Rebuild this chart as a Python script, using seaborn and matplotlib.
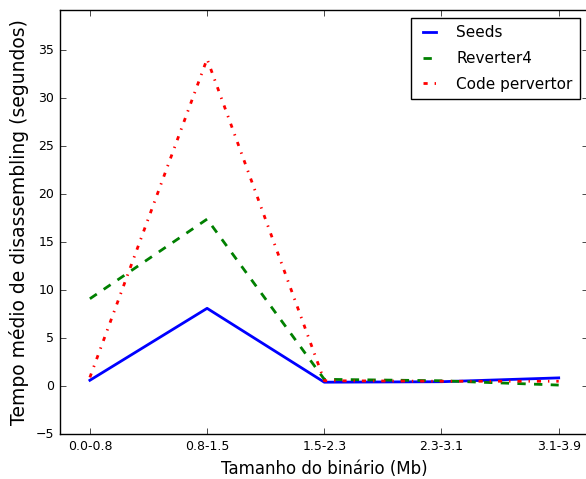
import numpy as np
import seaborn as sns
from matplotlib import pyplot as plt

# Average disassembling time per binary size bucket
categories = ['0.0-0.8', '0.8-1.5', '1.5-2.3', '2.3-3.1', '3.1-3.9']
seeds = [0.6, 8.1, 0.4, 0.45, 0.85]
reverter4 = [9.1, 17.4, 0.7, 0.55, 0.1]
code_pervertor = [0.9, 34.1, 0.55, 0.5, 0.5]


def plot_times():
    plt.style.use('classic')
    plt.rcParams['figure.facecolor'] = 'white'
    plt.rcParams['savefig.facecolor'] = 'white'
    plt.rcParams['font.family'] = ['DejaVu Sans']

    fig = plt.figure(figsize=(5.86, 4.79), dpi=100)
    ax = fig.add_axes([60 / 586, 45 / 479, 528 / 586, 424 / 479])

    x = np.arange(len(categories))
    sns.lineplot(x=x, y=seeds, ax=ax, color='b', lw=2, label='Seeds')
    sns.lineplot(x=x, y=reverter4, ax=ax, color='g', lw=2, linestyle='--', label='Reverter4')
    sns.lineplot(x=x, y=code_pervertor, ax=ax, color='r', lw=2, linestyle='-.',
                 label='Code pervertor')

    ax.set_xticks(x)
    ax.set_xticklabels(categories, fontsize=9)
    ax.set_xlim(-0.255, 4.25)
    ax.set_ylim(-5, 39.2)
    ax.set_yticks(np.arange(-5, 36, 5))
    ax.tick_params(axis='y', labelsize=9)

    ax.set_xlabel('Tamanho do binário (Mb)', fontsize=12)
    ax.set_ylabel('Tempo médio de disassembling (segundos)', fontsize=13.5)

    ax.legend(loc='upper right', fontsize=11, handlelength=1.5, labelspacing=0.7,
              handletextpad=1.0, borderpad=0.5)

    plt.savefig('out.png', dpi=100)


plot_times()
